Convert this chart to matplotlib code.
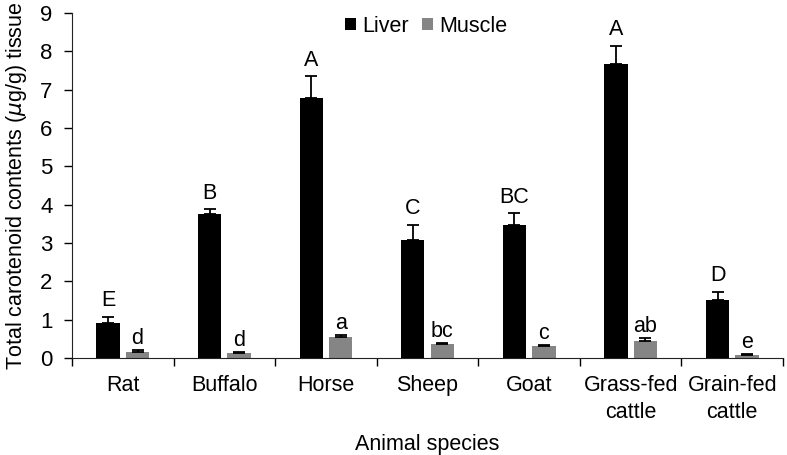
import numpy as np
import matplotlib
matplotlib.use("Agg")
import matplotlib.pyplot as plt

plt.rcParams['font.family'] = ['Liberation Sans', 'DejaVu Sans']

# data
species = ["Rat", "Buffalo", "Horse", "Sheep", "Goat", "Grass-fed\ncattle", "Grain-fed\ncattle"]
liver = [0.91, 3.75, 6.78, 3.07, 3.47, 7.68, 1.52]
liver_err = [0.17, 0.13, 0.57, 0.40, 0.31, 0.46, 0.21]
muscle = [0.16, 0.12, 0.54, 0.36, 0.30, 0.44, 0.08]
muscle_err = [0.04, 0.03, 0.06, 0.03, 0.03, 0.07, 0.02]
liver_lab = ["E", "B", "A", "C", "BC", "A", "D"]
muscle_lab = ["d", "d", "a", "bc", "c", "ab", "e"]

fig = plt.figure(figsize=(7.87, 4.55), dpi=100)
ax = fig.add_axes([0.0915, 0.2132, 0.9035, 0.7582])

x = np.arange(len(species))
w = 0.23
off = 0.145
ax.bar(x - off, liver, w, color='black', label='Liver')
ax.bar(x + off, muscle, w, color='#858585', label='Muscle')
ax.errorbar(x - off, liver, yerr=[np.zeros(len(x)), liver_err], fmt='none',
            ecolor='black', elinewidth=1.3, capsize=4, capthick=1.3)
ax.errorbar(x + off, muscle, yerr=[np.zeros(len(x)), muscle_err], fmt='none',
            ecolor='black', elinewidth=1.3, capsize=4, capthick=1.3)

for i in range(len(x)):
    ax.annotate(liver_lab[i], (x[i] - off, liver[i] + liver_err[i]), xytext=(0, 4),
                textcoords='offset points', ha='center', va='bottom', fontsize=15.5)
    ax.annotate(muscle_lab[i], (x[i] + off, muscle[i] + muscle_err[i]), xytext=(0, 1),
                textcoords='offset points', ha='center', va='bottom', fontsize=15.5)

ax.set_xlim(-0.5, len(x) - 0.5)
ax.set_ylim(0, 9)
ax.set_yticks(range(10))
ax.set_xticks(x)
ax.set_xticklabels(species, fontsize=15.5, linespacing=1.4)
ax.set_xticks(np.arange(-0.5, len(x)), minor=True)
ax.tick_params(axis='x', which='major', length=0, pad=12)
ax.tick_params(axis='x', which='minor', length=6, width=1, direction='out')
ax.tick_params(axis='y', labelsize=16, length=6, width=1, direction='out', pad=8)
for s in ['top', 'right']:
    ax.spines[s].set_visible(False)
ax.spines['left'].set_color('#222222')
ax.spines['bottom'].set_color('#222222')

ax.set_ylabel(r"Total carotenoid contents ($\mu$g/g) tissue", fontsize=15.5, labelpad=8)
ax.set_xlabel("Animal species", fontsize=15.5, labelpad=8)

ax.legend(loc='center', bbox_to_anchor=(0.498, 0.962), ncol=2, frameon=False,
          fontsize=15.5, handlelength=0.5, handleheight=0.5, handletextpad=0.3,
          columnspacing=0.6)

fig.savefig("out.png", dpi=100)
